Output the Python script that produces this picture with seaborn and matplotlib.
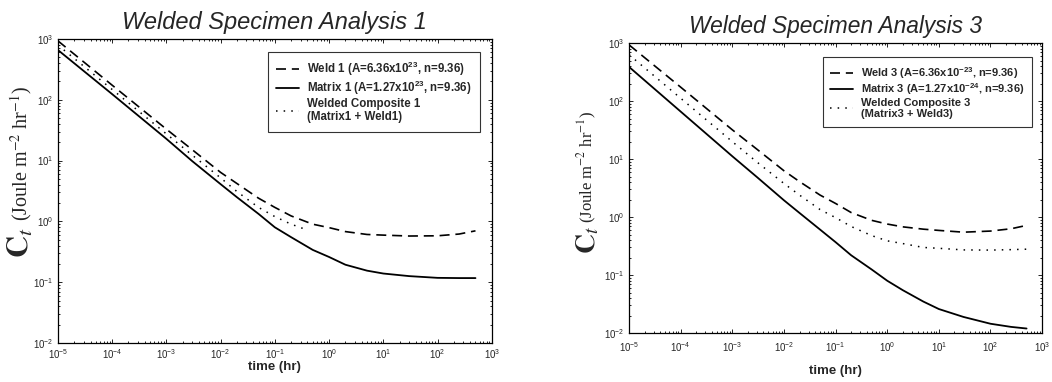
import matplotlib
matplotlib.use('Agg')
import matplotlib.pyplot as plt
import seaborn as sns
from matplotlib.ticker import LogLocator, NullFormatter

time = [1e-5, 1e-4, 1e-3, 3e-3, 1e-2, 2e-2, 5e-2, 0.1, 0.2, 0.5, 1, 2, 5, 10, 30, 100, 250, 500]

# Analysis 1
weld1 = [933, 174, 32.9, 15.1, 6.4, 4.2, 2.41, 1.70, 1.23, 0.90, 0.79, 0.68, 0.61, 0.595, 0.575, 0.58, 0.62, 0.70]
matrix1 = [660, 124, 22.8, 9.8, 4.1, 2.5, 1.33, 0.80, 0.55, 0.34, 0.26, 0.194, 0.155, 0.139, 0.126, 0.118, 0.117, 0.117]
comp1_time = [1e-5, 1e-4, 1e-3, 3e-3, 1e-2, 2e-2, 5e-2, 0.1, 0.2, 0.4]
comp1 = [794, 148, 27.5, 12.3, 5.2, 3.1, 1.7, 1.2, 0.9, 0.72]

# Analysis 3
weld3 = [933, 174, 32, 14.8, 6.3, 4.1, 2.4, 1.72, 1.2, 0.88, 0.76, 0.68, 0.62, 0.59, 0.55, 0.575, 0.63, 0.72]
matrix3 = [389, 66, 11.2, 4.9, 1.95, 1.18, 0.61, 0.37, 0.22, 0.125, 0.080, 0.055, 0.035, 0.026, 0.019, 0.0145, 0.0128, 0.012]
comp3 = [631, 112, 20, 8.9, 3.8, 2.4, 1.35, 0.98, 0.69, 0.48, 0.39, 0.35, 0.30, 0.29, 0.272, 0.27, 0.275, 0.28]

labels1 = ['Weld 1 (A=6.36x10$^{23}$, n=9.36)',
           'Matrix 1 (A=1.27x10$^{23}$, n=9.36)',
           'Welded Composite 1\n(Matrix1 + Weld1)']
labels3 = ['Weld 3 (A=6.36x10$^{-23}$, n=9.36)',
           'Matrix 3 (A=1.27x10$^{-24}$, n=9.36)',
           'Welded Composite 3\n(Matrix3 + Weld3)']

sns.set_theme(style='ticks')
plt.rcParams['font.family'] = ['Liberation Sans', 'DejaVu Sans']
plt.rcParams['mathtext.fontset'] = 'custom'
plt.rcParams['mathtext.rm'] = 'Liberation Sans:bold'
plt.rcParams['mathtext.it'] = 'Liberation Sans:italic:bold'
plt.rcParams['mathtext.bf'] = 'Liberation Sans:bold'

fig = plt.figure(figsize=(10.52, 3.82), dpi=100)
ax1 = fig.add_axes([0.055, 0.102, 0.4125, 0.796])
ax2 = fig.add_axes([0.598, 0.128, 0.3926, 0.759])


def draw(ax, weld, matrix, ctime, comp, labels, title, opts):
    ax.set_xscale('log')
    ax.set_yscale('log')
    sns.lineplot(x=time, y=weld, ax=ax, color='black', lw=1.2,
                 linestyle=(0, (6, 3.5)), label=labels[0])
    sns.lineplot(x=time, y=matrix, ax=ax, color='black', lw=1.3,
                 linestyle='-', label=labels[1])
    sns.lineplot(x=ctime, y=comp, ax=ax, color='black', lw=1.1,
                 linestyle=(0, (1, 4)), label=labels[2])
    ax.set_xlim(1e-5, 1e3)
    ax.set_ylim(1e-2, 1e3)
    ax.xaxis.set_major_locator(LogLocator(base=10, numticks=20))
    ax.yaxis.set_major_locator(LogLocator(base=10, numticks=20))
    ax.xaxis.set_minor_locator(LogLocator(base=10, subs=range(2, 10), numticks=20))
    ax.yaxis.set_minor_locator(LogLocator(base=10, subs=range(2, 10), numticks=20))
    ax.xaxis.set_minor_formatter(NullFormatter())
    ax.yaxis.set_minor_formatter(NullFormatter())
    ax.tick_params(which='both', direction='in', top=True, right=True,
                   labelsize=7, width=0.6, color='black')
    ax.tick_params(axis='x', pad=opts['xpad'])
    ax.tick_params(which='major', length=3)
    ax.tick_params(which='minor', length=1.5)
    for s in ax.spines.values():
        s.set_linewidth(0.9)
        s.set_color('black')
    ax.set_title(title, fontsize=opts['tsize'], style='italic', pad=7)
    ax.set_xlabel('time (hr)', fontsize=9.5, fontweight='bold', labelpad=opts['xlabelpad'])
    ax.set_ylabel('')

    # y label: big C_t plus the unit text, both centred on the same column
    ax.text(opts['ylx'], opts['yly'], r'(Joule m$^{\mathrm{-2}}$ hr$^{\mathrm{-1}}$)',
            transform=ax.transAxes, rotation=90, ha='center', va='center',
            fontsize=opts['ysize'], family='Liberation Serif', math_fontfamily='stix')
    ax.text(opts['ylx'], opts['cy'], r'$\mathbf{C}_{t}$', transform=ax.transAxes,
            rotation=90, ha='center', va='center', fontsize=opts['csize'],
            math_fontfamily='stix')

    leg = ax.legend(loc='upper right', bbox_to_anchor=opts['anchor'], frameon=True,
                    fancybox=False, edgecolor='black', handlelength=2.0,
                    borderpad=0.7, labelspacing=0.05, handletextpad=0.75,
                    borderaxespad=0, prop={'size': opts['lsize'], 'weight': 'bold'})
    leg.get_frame().set_linewidth(0.8)


draw(ax1, weld1, matrix1, comp1_time, comp1, labels1, 'Welded Specimen Analysis 1',
     dict(tsize=17, ysize=14.5, csize=22, ylx=-0.085, yly=0.625, cy=0.33,
          anchor=(0.972, 0.957), lsize=8.3, xpad=3, xlabelpad=0))
draw(ax2, weld3, matrix3, time, comp3, labels3, 'Welded Specimen Analysis 3',
     dict(tsize=16.4, ysize=12, csize=20, ylx=-0.1, yly=0.575, cy=0.32,
          anchor=(0.976, 0.952), lsize=8, xpad=5, xlabelpad=8))

fig.savefig('out.png', dpi=100, facecolor='white')
